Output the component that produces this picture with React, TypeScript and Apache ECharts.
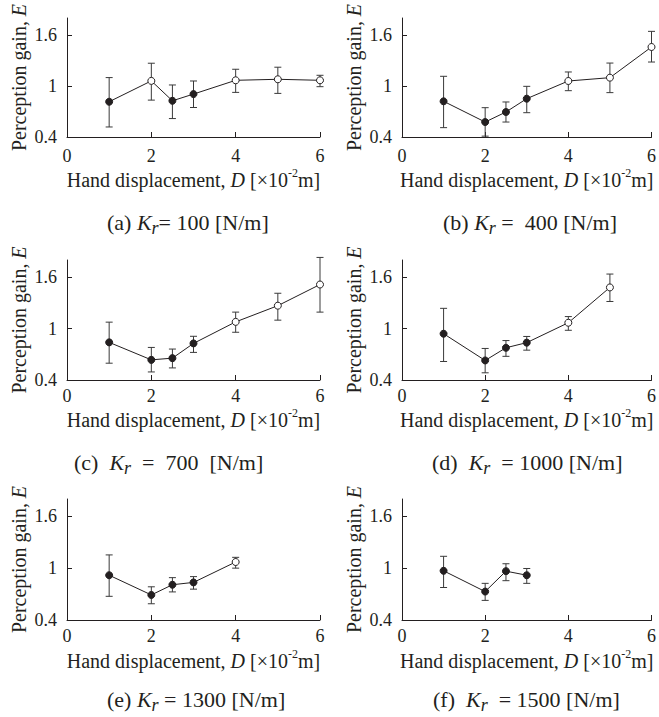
import React, { useEffect, useRef } from 'react';
import * as echarts from 'echarts';

// ---- data ----
const panelTags = ['(a)', '(b)', '(c)', '(d)', '(e)', '(f)'];
const stiffness = [100, 400, 700, 1000, 1300, 1500];
const yTicks = [0.4, 1, 1.6];

const dispA = [1, 2, 2.5, 3, 4, 5, 6];
const gainA = [0.815, 1.06, 0.826, 0.905, 1.067, 1.079, 1.067];
const lowA = [0.518, 0.834, 0.617, 0.747, 0.925, 0.913, 0.992];
const highA = [1.099, 1.268, 1.012, 1.059, 1.197, 1.221, 1.126];
const openA = [false, true, false, false, true, true, true];

const dispB = [1, 2, 2.5, 3, 4, 5, 6];
const gainB = [0.82, 0.576, 0.694, 0.851, 1.059, 1.098, 1.459];
const lowB = [0.51, 0.41, 0.576, 0.686, 0.945, 0.922, 1.282];
const highB = [1.114, 0.745, 0.812, 0.996, 1.165, 1.27, 1.643];
const openB = [false, false, false, false, true, true, true];

const dispC = [1, 2, 2.5, 3, 4, 5, 6];
const gainC = [0.839, 0.635, 0.655, 0.827, 1.078, 1.267, 1.514];
const lowC = [0.596, 0.494, 0.541, 0.722, 0.957, 1.098, 1.192];
const highC = [1.075, 0.78, 0.761, 0.91, 1.192, 1.412, 1.83];
const openC = [false, false, false, false, true, true, true];

const dispD = [1, 2, 2.5, 3, 4, 5];
const gainD = [0.94, 0.628, 0.776, 0.836, 1.068, 1.48];
const lowD = [0.616, 0.484, 0.676, 0.748, 0.98, 1.316];
const highD = [1.236, 0.768, 0.86, 0.908, 1.14, 1.636];
const openD = [false, false, false, false, true, true];

const dispE = [1, 2, 2.5, 3, 4];
const gainE = [0.918, 0.69, 0.808, 0.835, 1.071];
const lowE = [0.674, 0.588, 0.725, 0.757, 1.0];
const highE = [1.153, 0.784, 0.89, 0.902, 1.125];
const openE = [false, false, false, false, true];

const dispF = [1, 2, 2.5, 3];
const gainF = [0.969, 0.729, 0.965, 0.918];
const lowF = [0.776, 0.627, 0.855, 0.824];
const highF = [1.137, 0.824, 1.051, 0.996];
const openF = [false, false, false, false];

const panels = [
  { disp: dispA, gain: gainA, low: lowA, high: highA, open: openA },
  { disp: dispB, gain: gainB, low: lowB, high: highB, open: openB },
  { disp: dispC, gain: gainC, low: lowC, high: highC, open: openC },
  { disp: dispD, gain: gainD, low: lowD, high: highD, open: openD },
  { disp: dispE, gain: gainE, low: lowE, high: highE, open: openE },
  { disp: dispF, gain: gainF, low: lowF, high: highF, open: openF },
];

// ---- layout ----
const FONT = '"Liberation Serif", "Times New Roman", serif';
const INK = '#231f20';
const colLeft = [67, 402];
const plotW = 253;
const rowTop = [18, 260, 499];
const rowH = [119, 120, 121];
const labelMargin = [10, 7, 7];
const nameGap = [30, 27, 28];
const captionRowY = [222, 462, 699];
const captionX = [107, 443, 74, 432, 107, 433];
const captionMid = [
  '{k|K}{r|r}= ',
  '{k|K}{r|r} =  ',
  '{k|K}{r|r}  =  ',
  '{k|K}{r|r}  = ',
  '{k|K}{r|r} = ',
  '{k|K}{r|r}  = ',
];
const captionGap = [' ', ' ', '  ', '  ', ' ', '  '];
const captionTail = [' [N/m]', ' [N/m]', '  [N/m]', ' [N/m]', ' [N/m]', ' [N/m]'];

export default function App() {
  const ref = useRef<HTMLDivElement>(null);
  useEffect(() => {
    if (!ref.current) return;
    const chart = echarts.init(ref.current, null, { renderer: 'svg' });
    const grid: any[] = [];
    const xAxis: any[] = [];
    const yAxis: any[] = [];
    const series: any[] = [];
    const graphic: any[] = [];

    panels.forEach((p, i) => {
      const row = Math.floor(i / 2);
      const col = i % 2;
      grid.push({ left: colLeft[col], top: rowTop[row], width: plotW, height: rowH[row], containLabel: false });
      xAxis.push({
        gridIndex: i,
        type: 'value',
        min: 0,
        max: 6,
        interval: 2,
        name: 'Hand displacement, {i|D} [×10{s|-2}m]',
        nameLocation: 'middle',
        nameGap: nameGap[row],
        nameTextStyle: {
          fontFamily: FONT,
          fontSize: 20,
          color: INK,
          lineHeight: 26,
          rich: {
            i: { fontFamily: FONT, fontSize: 20, fontStyle: 'italic', color: INK, lineHeight: 26 },
            s: { fontFamily: FONT, fontSize: 12, color: INK, verticalAlign: 'top', lineHeight: 26 },
          },
        },
        splitLine: { show: false },
        axisLine: { show: true, onZero: false, lineStyle: { color: INK, width: 1 } },
        axisTick: { show: true, inside: true, length: 5, lineStyle: { color: INK } },
        axisLabel: { fontFamily: FONT, fontSize: 18, color: INK, margin: labelMargin[row] },
      });
      yAxis.push({
        gridIndex: i,
        type: 'value',
        min: 0.4,
        max: 1.8,
        name: 'Perception gain, {i|E}',
        nameLocation: 'middle',
        nameGap: 38,
        nameTextStyle: {
          fontFamily: FONT,
          fontSize: 20,
          color: INK,
          rich: { i: { fontFamily: FONT, fontSize: 20, fontStyle: 'italic', color: INK } },
        },
        splitLine: { show: false },
        axisLine: { show: true, onZero: false, lineStyle: { color: INK, width: 1 } },
        axisTick: { show: true, inside: true, length: 5, customValues: yTicks, lineStyle: { color: INK } },
        axisLabel: { fontFamily: FONT, fontSize: 18, color: INK, margin: 10, customValues: yTicks },
      });
      series.push({
        type: 'custom',
        xAxisIndex: i,
        yAxisIndex: i,
        clip: false,
        z: 1,
        silent: true,
        encode: { x: 0, y: [1, 2] },
        data: p.disp.map((d, k) => [d, p.low[k], p.high[k]]),
        renderItem: (params: any, api: any) => {
          const x = api.value(0);
          const a = api.coord([x, api.value(1)]);
          const b = api.coord([x, api.value(2)]);
          const w = 3.5;
          const st = { stroke: '#3a3a3a', lineWidth: 1 };
          return {
            type: 'group',
            children: [
              { type: 'line', shape: { x1: a[0], y1: a[1], x2: b[0], y2: b[1] }, style: st },
              { type: 'line', shape: { x1: a[0] - w, y1: a[1], x2: a[0] + w, y2: a[1] }, style: st },
              { type: 'line', shape: { x1: b[0] - w, y1: b[1], x2: b[0] + w, y2: b[1] }, style: st },
            ],
          };
        },
      });
      series.push({
        type: 'line',
        xAxisIndex: i,
        yAxisIndex: i,
        z: 3,
        symbol: 'circle',
        symbolSize: 7,
        lineStyle: { color: INK, width: 1 },
        data: p.disp.map((d, k) => ({
          value: [d, p.gain[k]],
          itemStyle: p.open[k]
            ? { color: '#ffffff', borderColor: INK, borderWidth: 1 }
            : { color: INK, borderColor: INK, borderWidth: 1 },
        })),
      });
      graphic.push({
        type: 'text',
        id: 'caption' + i,
        x: captionX[i],
        y: captionRowY[row],
        style: {
          x: 0,
          y: 0,
          text: panelTags[i] + captionGap[i] + captionMid[i] + stiffness[i] + captionTail[i],
          font: `22px ${FONT}`,
          fill: INK,
          align: 'left',
          verticalAlign: 'middle',
          rich: {
            k: { fontFamily: FONT, fontSize: 22, fontStyle: 'italic', fill: INK, lineHeight: 28 },
            r: { fontFamily: FONT, fontSize: 18, fontStyle: 'italic', fill: INK, verticalAlign: 'bottom', lineHeight: 30 },
          },
        },
      });
    });

    chart.setOption({
      animation: false,
      backgroundColor: '#ffffff',
      textStyle: { fontFamily: FONT },
      grid,
      xAxis,
      yAxis,
      series,
      graphic,
    });
    return () => chart.dispose();
  }, []);
  return <div ref={ref} style={{ position: 'absolute', left: 0, top: 0, width: 659, height: 717 }} />;
}
